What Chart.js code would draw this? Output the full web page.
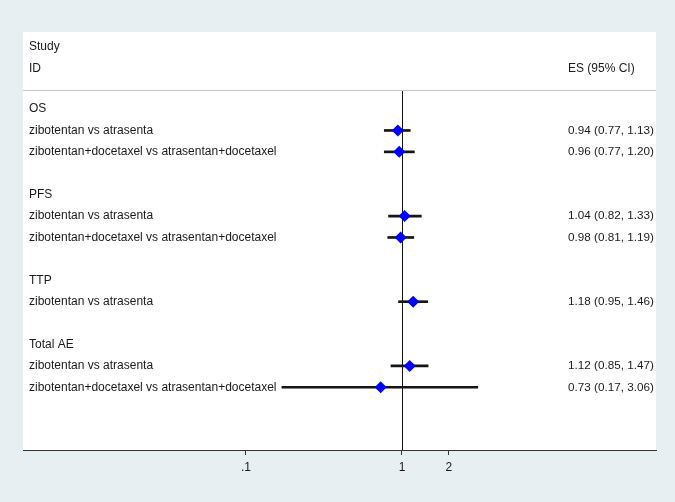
<!DOCTYPE html>
<html>
<head>
<meta charset="utf-8">
<script src="https://cdn.jsdelivr.net/npm/chart.js@4"></script>
<style>
  html, body { margin: 0; padding: 0; background: #e8eff2; }
  #wrap { width: 675px; height: 502px; }
</style>
</head>
<body>
<div id="wrap"><canvas id="forest" width="675" height="502"></canvas></div>
<script>
const groups = ['OS', 'PFS', 'TTP', 'Total AE'];
const studies = [
    'zibotentan vs atrasenta',
    'zibotentan+docetaxel vs atrasentan+docetaxel',
    'zibotentan vs atrasenta',
    'zibotentan+docetaxel vs atrasentan+docetaxel',
    'zibotentan vs atrasenta',
    'zibotentan vs atrasenta',
    'zibotentan+docetaxel vs atrasentan+docetaxel'
];
const studyGroup = [0, 0, 1, 1, 2, 3, 3];
const es = [0.94, 0.96, 1.04, 0.98, 1.18, 1.12, 0.73];
const lower = [0.77, 0.77, 0.82, 0.81, 0.95, 0.85, 0.17];
const upper = [1.13, 1.20, 1.33, 1.19, 1.46, 1.47, 3.06];
const xTicks = [0.1, 1, 2];

// row layout: group header, its studies, then one empty row
let rows = [];
let studyRow = [];
let r = 0;
groups.forEach((g, gi) => {
    rows.push({ text: g, y: r++ });
    studies.forEach((s, i) => {
        if (studyGroup[i] === gi) {
            studyRow[i] = r;
            rows.push({ text: s, y: r, es: es[i].toFixed(2) + ' (' + lower[i].toFixed(2) + ', ' + upper[i].toFixed(2) + ')' });
            r++;
        }
    });
    r++;
});

const FONT = '"Liberation Sans", Arial, sans-serif';

const forestText = {
    id: 'forestText',
    beforeDraw(chart) {
        const { ctx, chartArea: a } = chart;
        ctx.save();
        ctx.fillStyle = '#e8eff2';
        ctx.fillRect(0, 0, chart.width, chart.height);
        ctx.fillStyle = '#ffffff';
        ctx.fillRect(a.left, a.top, a.right - a.left, a.bottom - a.top);
        ctx.restore();
    },
    beforeDatasetsDraw(chart) {
        const { ctx, chartArea: a, scales } = chart;
        const sep = scales.y.getPixelForValue(-0.9);
        // no-effect line
        const x1 = Math.round(scales.x.getPixelForValue(1)) + 0.5;
        ctx.save();
        ctx.strokeStyle = '#111';
        ctx.lineWidth = 1;
        ctx.beginPath();
        ctx.moveTo(x1, Math.round(sep) + 1);
        ctx.lineTo(x1, a.bottom);
        ctx.stroke();
        ctx.restore();
    },
    afterDatasetsDraw(chart) {
        const { ctx, chartArea: a, scales } = chart;
        const y = scales.y;
        const sep = y.getPixelForValue(-0.9);
        ctx.save();
        // header separator
        ctx.strokeStyle = '#c4c8ca';
        ctx.lineWidth = 1;
        ctx.beginPath();
        ctx.moveTo(a.left, Math.round(sep) + 0.5);
        ctx.lineTo(a.right, Math.round(sep) + 0.5);
        ctx.stroke();

        ctx.fillStyle = '#1a1a1a';
        ctx.textBaseline = 'middle';
        ctx.font = '12px ' + FONT;
        ctx.textAlign = 'left';
        ctx.fillText('Study', a.left + 6, y.getPixelForValue(-2.9));
        ctx.fillText('ID', a.left + 6, y.getPixelForValue(-1.9));
        ctx.fillText('ES (95% CI)', a.left + 545, y.getPixelForValue(-1.9));
        rows.forEach(row => {
            ctx.font = '12px ' + FONT;
            ctx.fillText(row.text, a.left + 6, y.getPixelForValue(row.y));
            if (row.es) {
                ctx.font = '11.7px ' + FONT;
                ctx.fillText(row.es, a.left + 545, y.getPixelForValue(row.y));
            }
        });
        ctx.restore();
    }
};

new Chart(document.getElementById('forest'), {
    type: 'bar',
    data: {
        datasets: [{
            type: 'bar',
            indexAxis: 'y',
            order: 2,
            data: studies.map((s, i) => ({ y: studyRow[i], x: [lower[i], upper[i]] })),
            backgroundColor: '#151515',
            borderWidth: 0,
            barThickness: 2,
            borderSkipped: false
        }, {
            type: 'scatter',
            order: 1,
            data: studies.map((s, i) => ({ x: es[i], y: studyRow[i] })),
            pointStyle: 'rectRot',
            pointRadius: 6,
            backgroundColor: '#0000ff',
            borderColor: '#0000ff',
            borderWidth: 0
        }]
    },
    options: {
        responsive: false,
        animation: false,
        layout: { padding: { left: 23, right: 19, top: 32, bottom: 22 } },
        plugins: { legend: { display: false }, tooltip: { enabled: false } },
        scales: {
            x: {
                type: 'logarithmic',
                offset: false,
                min: Math.pow(10, -2.429),
                max: Math.pow(10, 1.628),
                afterBuildTicks: s => { s.ticks = xTicks.map(v => ({ value: v })); },
                afterFit: s => { s.height = 30; },
                ticks: {
                    autoSkip: false,
                    maxRotation: 0,
                    padding: 5,
                    color: '#1a1a1a',
                    font: { family: FONT, size: 12 },
                    callback: v => v === 0.1 ? '.1' : String(v)
                },
                grid: { offset: false, drawOnChartArea: false, tickLength: 5, color: '#333' },
                border: { display: true, color: '#333', width: 1 }
            },
            y: {
                type: 'linear',
                offset: false,
                min: -3.6,
                max: 15.93,
                reverse: true,
                display: false
            }
        }
    },
    plugins: [forestText]
});
</script>
</body>
</html>
